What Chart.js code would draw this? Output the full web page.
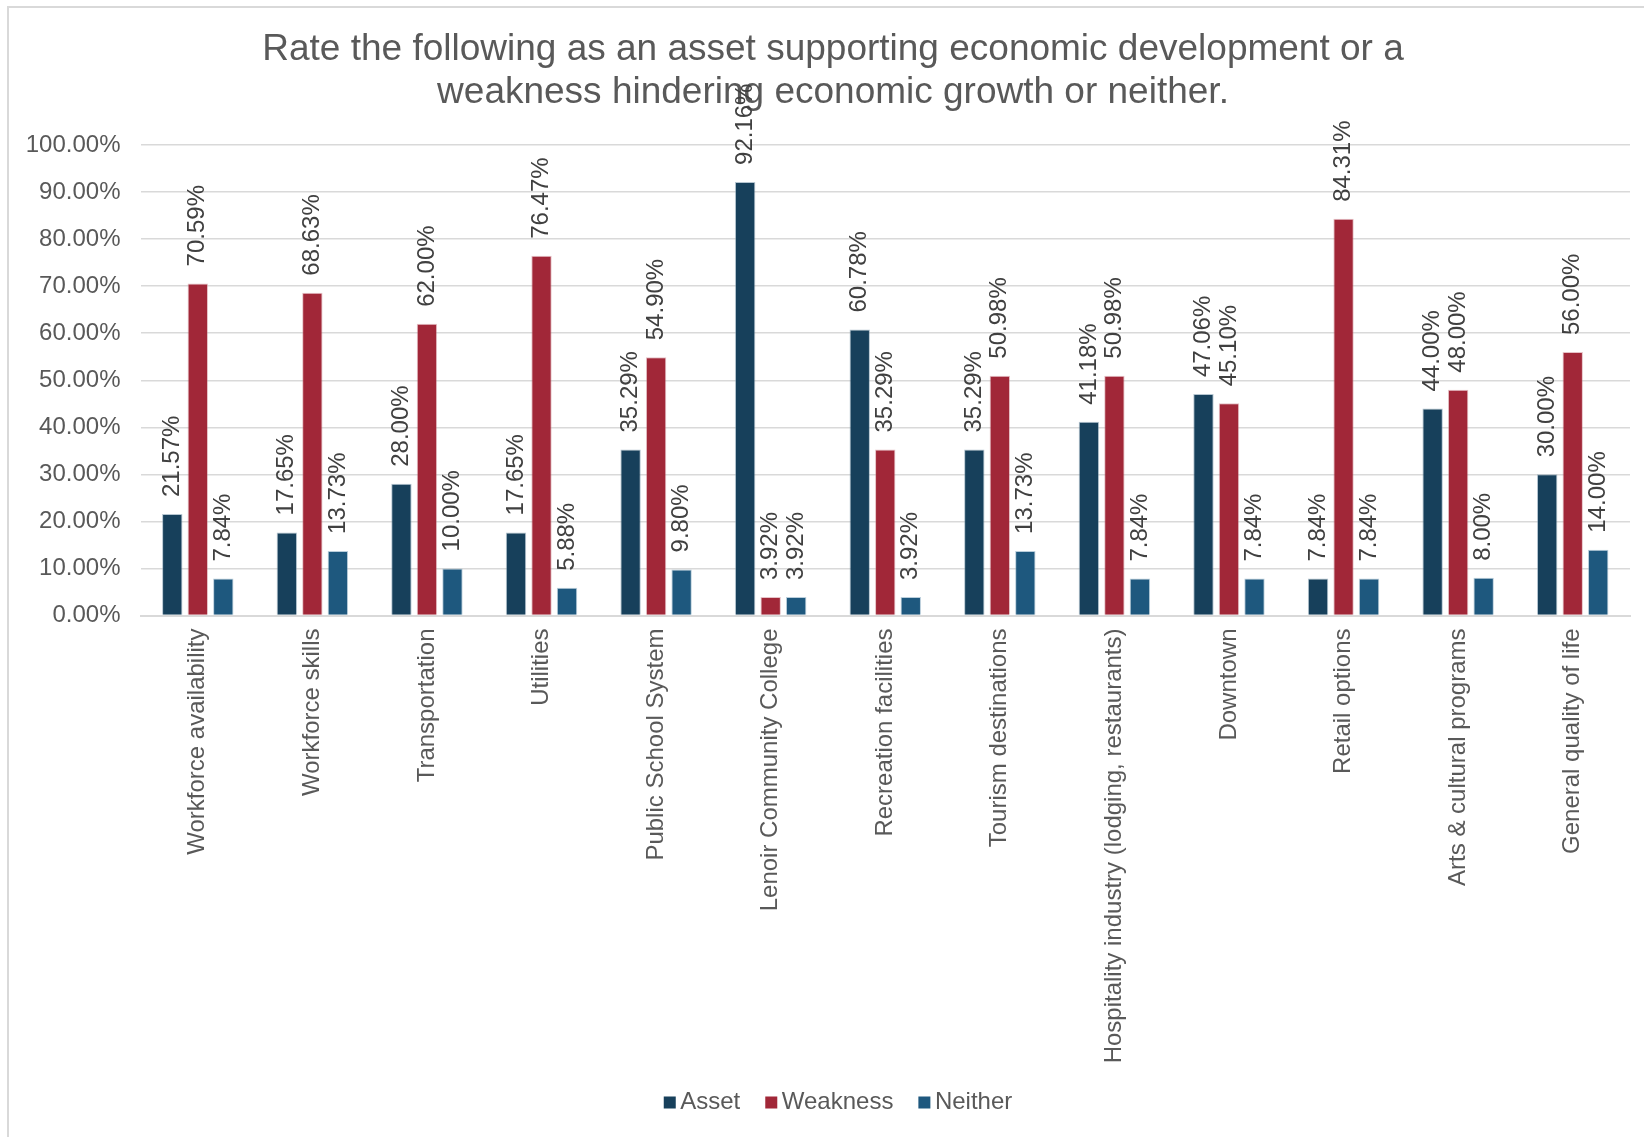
<!DOCTYPE html>
<html>
<head>
<meta charset="utf-8">
<title>Economic development assets and weaknesses</title>
<script src="https://cdn.jsdelivr.net/npm/chart.js@4.4.1/dist/chart.umd.min.js"></script>
<style>
  html, body { margin: 0; padding: 0; background: #ffffff; }
  #wrap { position: relative; width: 1644px; height: 1137px; }
</style>
</head>
<body>
<div id="wrap"><canvas id="chart" width="1644" height="1137"></canvas></div>
<script>
const categories = [
  'Workforce availability',
  'Workforce skills',
  'Transportation',
  'Utilities',
  'Public School System',
  'Lenoir Community College',
  'Recreation facilities',
  'Tourism destinations',
  'Hospitality industry (lodging, restaurants)',
  'Downtown',
  'Retail options',
  'Arts & cultural programs',
  'General quality of life'
];
const assetValues    = [21.57, 17.65, 28.00, 17.65, 35.29, 92.16, 60.78, 35.29, 41.18, 47.06, 7.84, 44.00, 30.00];
const weaknessValues = [70.59, 68.63, 62.00, 76.47, 54.90, 3.92, 35.29, 50.98, 50.98, 45.10, 84.31, 48.00, 56.00];
const neitherValues  = [7.84, 13.73, 10.00, 5.88, 9.80, 3.92, 3.92, 13.73, 7.84, 7.84, 7.84, 8.00, 14.00];
const seriesNames = ['Asset', 'Weakness', 'Neither'];
const titleLines = [
  'Rate the following as an asset supporting economic development or a',
  'weakness hindering economic growth or neither.'
];

const FONT = '"Liberation Sans", Arial, sans-serif';
const TEXT_GREY = '#595959';
const LABEL_GREY = '#404040';
const GRID_GREY = '#d9d9d9';

// Light grey frame along the top and left edges of the chart
const framePlugin = {
  id: 'frame',
  beforeDraw(chart) {
    const ctx = chart.ctx;
    ctx.save();
    ctx.fillStyle = '#ffffff';
    ctx.fillRect(0, 0, chart.width, chart.height);
    ctx.strokeStyle = GRID_GREY;
    ctx.lineWidth = 2;
    ctx.beginPath();
    ctx.moveTo(8, chart.height);
    ctx.lineTo(8, 7);
    ctx.lineTo(chart.width, 7);
    ctx.stroke();
    ctx.restore();
  }
};

// Let the value-axis labels use the space left of the axis box
const axisRoomPlugin = {
  id: 'axisRoom',
  afterLayout(chart) {
    chart.scales.y.left = 0;
  }
};

// Vertical value labels above each bar
const barLabelPlugin = {
  id: 'barLabels',
  afterDatasetsDraw(chart) {
    const ctx = chart.ctx;
    ctx.save();
    ctx.font = '24px ' + FONT;
    ctx.fillStyle = LABEL_GREY;
    ctx.textAlign = 'left';
    ctx.textBaseline = 'middle';
    chart.data.datasets.forEach((ds, di) => {
      const meta = chart.getDatasetMeta(di);
      meta.data.forEach((bar, i) => {
        const v = ds.data[i];
        ctx.save();
        ctx.translate(bar.x, bar.y - 17);
        ctx.rotate(-Math.PI / 2);
        ctx.fillText(v.toFixed(2) + '%', 0, 0);
        ctx.restore();
      });
    });
    ctx.restore();
  }
};

// Series key centred under the plot: small square swatch followed by the name
const keyPlugin = {
  id: 'seriesKey',
  afterDraw(chart) {
    const ctx = chart.ctx;
    const box = 12, gapAfterBox = 4.5, gapBetween = 25;
    const cy = 1102.5;
    ctx.save();
    ctx.font = '24px ' + FONT;
    ctx.textBaseline = 'middle';
    ctx.textAlign = 'left';
    const items = chart.data.datasets.map(ds => ({
      text: ds.label, color: ds.backgroundColor, w: ctx.measureText(ds.label).width
    }));
    const total = items.reduce((s, it) => s + box + gapAfterBox + it.w, 0) + gapBetween * (items.length - 1);
    let x = 838 - total / 2;
    items.forEach(it => {
      ctx.fillStyle = it.color;
      ctx.fillRect(x, cy - box / 2, box, box);
      ctx.fillStyle = TEXT_GREY;
      ctx.fillText(it.text, x + box + gapAfterBox, cy);
      x += box + gapAfterBox + it.w + gapBetween;
    });
    ctx.restore();
  }
};

const barStyle = {
  categoryPercentage: 0.668,
  barPercentage: 0.8,
  borderWidth: 1,
  borderSkipped: 'bottom'
};

new Chart(document.getElementById('chart'), {
  type: 'bar',
  data: {
    labels: categories,
    datasets: [
      Object.assign({ label: seriesNames[0], data: assetValues,    backgroundColor: '#17405b', borderColor: 'rgba(120,150,170,0.55)' }, barStyle),
      Object.assign({ label: seriesNames[1], data: weaknessValues, backgroundColor: '#a12738', borderColor: 'rgba(200,120,130,0.45)' }, barStyle),
      Object.assign({ label: seriesNames[2], data: neitherValues,  backgroundColor: '#1e587e', borderColor: 'rgba(130,165,190,0.55)' }, barStyle)
    ]
  },
  options: {
    responsive: false,
    animation: false,
    devicePixelRatio: 1,
    layout: { padding: { left: 36, right: 14, top: 0, bottom: 0 } },
    plugins: {
      title: {
        display: true,
        text: titleLines,
        color: TEXT_GREY,
        font: { family: FONT, size: 37, weight: 'normal', lineHeight: 1.163 },
        padding: { top: 28.5, bottom: 30.5 }
      },
      legend: { display: false },
      tooltip: { enabled: false }
    },
    scales: {
      x: {
        grid: { display: false, drawTicks: false },
        border: { display: true, color: GRID_GREY, width: 2 },
        ticks: {
          color: TEXT_GREY,
          font: { family: FONT, size: 24 },
          minRotation: 90,
          maxRotation: 90,
          autoSkip: false,
          padding: 13
        },
        afterFit(scale) { scale.height = 521.5; }
      },
      y: {
        min: 0,
        max: 100,
        grid: { color: GRID_GREY, lineWidth: 1.5, drawTicks: false },
        border: { display: false },
        ticks: {
          stepSize: 10,
          color: TEXT_GREY,
          font: { family: FONT, size: 24 },
          padding: 20,
          callback: v => Number(v).toFixed(2) + '%'
        },
        afterFit(scale) { scale.width = 104.5; }
      }
    }
  },
  plugins: [framePlugin, axisRoomPlugin, barLabelPlugin, keyPlugin]
});
</script>
</body>
</html>
